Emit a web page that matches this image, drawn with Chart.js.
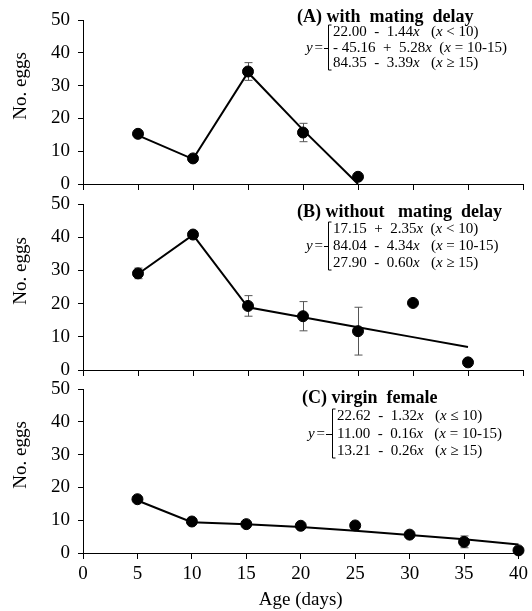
<!DOCTYPE html>
<html>
<head>
<meta charset="utf-8">
<script src="https://cdn.jsdelivr.net/npm/chart.js@4.4.1/dist/chart.umd.min.js"></script>
<style>
  body { margin: 0; background: #fff; overflow: hidden; }
  #wrap { position: relative; width: 532px; height: 611px; overflow: hidden; }
  canvas { position: absolute; left: 0; }
</style>
</head>
<body>
<div id="wrap">
  <canvas id="panelA" width="532" height="208" style="top:-2px"></canvas>
  <canvas id="panelB" width="532" height="210" style="top:182px"></canvas>
  <canvas id="panelC" width="532" height="244" style="top:367px"></canvas>
</div>
<script>
// ages (days)
const agesA = [5, 10, 15, 20, 25];
const agesB = [5, 10, 15, 20, 25, 30, 35];
const agesC = [5, 10, 15, 20, 25, 30, 35, 40];

// (A) with mating delay
const eggsA = [15.3, 7.8, 34.3, 15.7, 2.2];
const errA  = [0.8, 0.6, 2.7, 2.8, 0];
const fitA  = [14.8, 7.6, 34.0, 16.5, 0];

// (B) without mating delay
const eggsB = [29.1, 40.8, 19.3, 16.2, 11.7, 20.2, 2.3];
const errB  = [1.6, 1.0, 3.1, 4.4, 7.2, 0, 0];
const fitB  = [28.9, 40.7, 18.9, 15.9, 12.9, 9.9, 6.9];

// (C) virgin female
const eggsC = [16.4, 9.6, 8.8, 8.3, 8.4, 5.6, 3.4, 0.8];
const errC  = [0.5, 0.4, 0.3, 0.3, 0.3, 0.3, 1.8, 0.3];
const fitC  = [16.0, 9.4, 8.8, 7.9, 6.8, 5.5, 4.2, 2.6];

const yTicks = [0, 10, 20, 30, 40, 50];
const xTicks = [0, 5, 10, 15, 20, 25, 30, 35, 40];

const titleA = '(A) with  mating  delay';
const titleB = '(B) without   mating  delay';
const titleC = '(C) virgin  female';
const formA = ['22.00  -  1.44x   (x < 10)', '- 45.16  +  5.28x  (x = 10-15)', '84.35  -  3.39x   (x \u2265 15)'];
const formB = ['17.15  +  2.35x  (x < 10)', '84.04  -  4.34x   (x = 10-15)', '27.90  -  0.60x   (x \u2265 15)'];
const formC = ['22.62  -  1.32x   (x \u2264 10)', '11.00  -  0.16x   (x = 10-15)', '13.21  -  0.26x   (x \u2265 15)'];

const SERIF = "'Liberation Serif', 'Times New Roman', serif";
const AXIS_LEFT = 83;
const AXIS_RIGHT = 523;

function richText(ctx, str, x, y, size) {
  // every x is the variable, set in italics
  const parts = str.split(/(x)/);
  let cx = x;
  parts.forEach(p => {
    if (!p) return;
    ctx.font = (p === 'x' ? 'italic ' : '') + size + 'px ' + SERIF;
    ctx.fillText(p, cx, y);
    cx += ctx.measureText(p).width;
  });
}

const panelPlugin = {
  id: 'panelExtras',
  beforeDatasetsDraw(chart, args, o) {
    const ctx = chart.ctx, xs = chart.scales.x, ys = chart.scales.y;
    ctx.save();
    ctx.strokeStyle = '#555';
    ctx.lineWidth = 1;
    o.ages.forEach((a, i) => {
      const e = o.err[i];
      if (!e) return;
      const px = Math.round(xs.getPixelForValue(a)) + 0.5;
      const top = ys.getPixelForValue(o.eggs[i] + e);
      const bot = ys.getPixelForValue(o.eggs[i] - e);
      ctx.beginPath();
      ctx.moveTo(px, top); ctx.lineTo(px, bot);
      ctx.moveTo(px - 4, top); ctx.lineTo(px + 4, top);
      ctx.moveTo(px - 4, bot); ctx.lineTo(px + 4, bot);
      ctx.stroke();
    });
    ctx.restore();
  },
  afterDraw(chart, args, o) {
    const ctx = chart.ctx, area = chart.chartArea;
    ctx.save();
    ctx.fillStyle = '#000';
    // y axis title
    ctx.translate(21, (area.top + area.bottom) / 2 - 16);
    ctx.rotate(-Math.PI / 2);
    ctx.font = '19px ' + SERIF;
    ctx.textAlign = 'center';
    ctx.textBaseline = 'middle';
    ctx.fillText('No. eggs', 0, 0);
    ctx.restore();

    const n = o.note;
    ctx.save();
    ctx.fillStyle = '#000';
    ctx.textBaseline = 'middle';
    ctx.font = 'bold 18px ' + SERIF;
    ctx.fillText(n.title, n.tx, n.ty);
    n.lines.forEach((l, i) => richText(ctx, l, n.fx, n.rows[i], 15));
    ctx.font = 'italic 15px ' + SERIF;
    ctx.fillText('y', n.yx, n.rows[1]);
    ctx.font = '15px ' + SERIF;
    const yw = ctx.measureText('y').width;
    ctx.fillText('=', n.yx + yw + 1, n.rows[1]);
    const eqEnd = n.yx + yw + 1 + ctx.measureText('=').width;
    ctx.strokeStyle = '#000';
    ctx.lineWidth = 1;
    const bx = n.fx - 4.5;
    const t = n.rows[0] - 7, b = n.rows[2] + 7;
    ctx.beginPath();
    ctx.moveTo(bx + 3, t); ctx.lineTo(bx, t); ctx.lineTo(bx, b); ctx.lineTo(bx + 3, b);
    ctx.moveTo(eqEnd + 1, n.rows[1] + 0.5); ctx.lineTo(bx, n.rows[1] + 0.5);
    ctx.stroke();
    ctx.restore();
  }
};

function makePanel(id, ages, eggs, err, fit, note, xHeight, showX) {
  new Chart(document.getElementById(id), {
    type: 'scatter',
    data: {
      datasets: [{
        data: ages.map((a, i) => ({ x: a, y: fit[i] })),
        showLine: true,
        borderColor: '#000',
        borderWidth: 2,
        pointRadius: 0,
        tension: 0,
        clip: false
      }, {
        data: ages.map((a, i) => ({ x: a, y: eggs[i] })),
        showLine: false,
        backgroundColor: '#000',
        borderColor: '#000',
        pointRadius: 5.5,
        clip: false
      }]
    },
    options: {
      responsive: false,
      animation: false,
      layout: { padding: { top: 22, right: 532 - AXIS_RIGHT, left: 0, bottom: 0 } },
      plugins: {
        legend: { display: false },
        tooltip: { enabled: false },
        panelExtras: { ages, eggs, err, note }
      },
      scales: {
        x: {
          type: 'linear', min: 0, max: 40,
          afterBuildTicks: s => { s.ticks = xTicks.map(v => ({ value: v })); },
          afterFit: s => { s.height = xHeight; },
          ticks: { display: showX, color: '#000', padding: 4, font: { family: SERIF, size: 19 } },
          grid: { drawOnChartArea: false, drawTicks: true, tickLength: 6, color: '#000' },
          border: { color: '#000', width: 1 },
          title: { display: showX, text: 'Age (days)', color: '#000', padding: 0, font: { family: SERIF, size: 19 } }
        },
        y: {
          min: 0, max: 50,
          afterBuildTicks: s => { s.ticks = yTicks.map(v => ({ value: v })); },
          afterFit: s => { s.width = AXIS_LEFT; },
          ticks: { color: '#000', padding: 8, font: { family: SERIF, size: 19 } },
          grid: { drawOnChartArea: false, drawTicks: true, tickLength: 5, color: '#000' },
          border: { color: '#000', width: 1 }
        }
      }
    },
    plugins: [panelPlugin]
  });
}

makePanel('panelA', agesA, eggsA, errA, fitA,
  { title: titleA, tx: 297, ty: 19, yx: 306, fx: 333, rows: [34, 50, 65], lines: formA }, 22, false);
makePanel('panelB', agesB, eggsB, errB, fitB,
  { title: titleB, tx: 297, ty: 30, yx: 306, fx: 333, rows: [47, 64, 81], lines: formB }, 22, false);
makePanel('panelC', agesC, eggsC, errC, fitC,
  { title: titleC, tx: 302, ty: 31, yx: 308, fx: 337, rows: [49, 67, 84], lines: formC }, 58, true);
</script>
</body>
</html>
